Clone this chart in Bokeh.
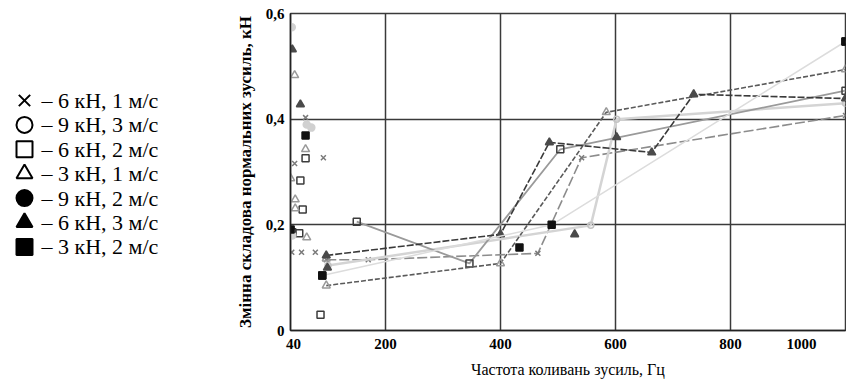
from bokeh.plotting import figure
from bokeh.layouts import row
from bokeh.models import Range1d, FixedTicker, CustomJSTickFormatter, ColumnDataSource
from bokeh.embed import file_html
from bokeh.resources import INLINE
from bokeh.core.properties import value

# ---------------- data ----------------
x_ticks = [40, 200, 400, 600, 800, 1000]
y_ticks = [0, 0.2, 0.4, 0.6]
grid_x = [200, 400, 600, 800]
grid_y = [0.2, 0.4]

legend_labels = ["– 6 кН, 1 м/с", "– 9 кН, 3 м/с", "– 6 кН, 2 м/с", "– 3 кН, 1 м/с",
                 "– 9 кН, 2 м/с", "– 6 кН, 3 м/с", "– 3 кН, 2 м/с"]
legend_markers = ["x", "circle", "square", "triangle", "circle", "triangle", "square"]
legend_filled = [0, 0, 0, 0, 1, 1, 1]

# 6 kN, 1 m/s  (x)
s1_line_f = [97, 170, 465, 541, 1000]
s1_line_v = [0.134, 0.134, 0.146, 0.327, 0.407]
s1_pts_f = [61, 92, 42, 37, 54, 78]
s1_pts_v = [0.403, 0.327, 0.316, 0.148, 0.148, 0.148]

# 9 kN, 3 m/s  (open circle)
s2_line_f = [100, 557, 602, 1000]
s2_line_v = [0.123, 0.199, 0.400, 0.430]
s2_pts_f = []
s2_pts_v = []

# 6 kN, 2 m/s  (open square)
s3_line_f = [150, 346, 504, 1000]
s3_line_v = [0.206, 0.127, 0.343, 0.454]
s3_pts_f = [61, 52, 56, 38, 50, 87]
s3_pts_v = [0.326, 0.284, 0.229, 0.186, 0.184, 0.030]

# 3 kN, 1 m/s  (open triangle)
s4_line_f = [97, 400, 584, 1000]
s4_line_v = [0.085, 0.127, 0.413, 0.494]
s4_pts_f = [42, 61, 35, 43, 43, 63, 97]
s4_pts_v = [0.483, 0.343, 0.288, 0.248, 0.231, 0.176, 0.136]

# 9 kN, 2 m/s  (filled circle)
s5_line_f = []
s5_line_v = []
s5_pts_f = [37, 63, 71, 38]
s5_pts_v = [0.574, 0.390, 0.384, 0.180]

# 6 kN, 3 m/s  (filled triangle)
s6_line_f = [97, 400, 485, 663, 736, 1000]
s6_line_v = [0.142, 0.182, 0.356, 0.337, 0.447, 0.439]
s6_pts_f = [38, 52, 99, 529, 602]
s6_pts_v = [0.532, 0.428, 0.119, 0.182, 0.366]

# 3 kN, 2 m/s  (filled square)
s7_line_f = [90, 489, 1000]
s7_line_v = [0.104, 0.200, 0.547]
s7_pts_f = [61, 35, 90, 433, 1000]
s7_pts_v = [0.369, 0.191, 0.104, 0.157, 0.547]

series = [
    (s1_line_f, s1_line_v, s1_pts_f, s1_pts_v),
    (s2_line_f, s2_line_v, s2_pts_f, s2_pts_v),
    (s3_line_f, s3_line_v, s3_pts_f, s3_pts_v),
    (s4_line_f, s4_line_v, s4_pts_f, s4_pts_v),
    (s5_line_f, s5_line_v, s5_pts_f, s5_pts_v),
    (s6_line_f, s6_line_v, s6_pts_f, s6_pts_v),
    (s7_line_f, s7_line_v, s7_pts_f, s7_pts_v),
]

# ---------------- styles ----------------
styles = [
    dict(mc="#7a7a7a", lc="#8c8c8c", dash="10 3", lw=1.6, fill=False, ms=7),
    dict(mc="#c4c4c4", lc="#d4d4d4", dash="solid", lw=2.5, fill=False, ms=6),
    dict(mc="#3c3c3c", lc="#9a9a9a", dash="solid", lw=1.8, fill=False, ms=7),
    dict(mc="#9a9a9a", lc="#5a5a5a", dash="5 2", lw=1.6, fill=False, ms=8),
    dict(mc="#d0d0d0", lc="#d0d0d0", dash="solid", lw=1.5, fill=True, ms=7),
    dict(mc="#4a4a4a", lc="#3a3a3a", dash="7 2", lw=1.6, fill=True, ms=8),
    dict(mc="#111111", lc="#dcdcdc", dash="solid", lw=1.5, fill=True, ms=7),
]

SERIF = "Liberation Serif"
H = 380
TOP = 13
BOTTOM = 50
LW = 230
MW = 616

# ---------------- legend figure ----------------
lg = figure(width=LW, height=H, x_range=Range1d(0, LW), y_range=Range1d(H - BOTTOM, TOP),
            output_backend="svg", toolbar_location=None,
            x_axis_location=None, y_axis_location=None,
            min_border_left=0, min_border_right=0, min_border_top=TOP, min_border_bottom=BOTTOM)
lg.grid.visible = False
lg.outline_line_color = None

row_y = [100 + i * 24.4 for i in range(len(legend_labels))]
lsrc = ColumnDataSource(dict(
    x=[24] * len(legend_labels), y=row_y, marker=legend_markers,
    fa=legend_filled, tx=[41] * len(legend_labels), label=legend_labels))
lg.scatter(x="x", y="y", marker="marker", source=lsrc, size=16, line_color="black",
           line_width=2, fill_color="black", fill_alpha="fa")
lg.text(x="tx", y="y", text="label", source=lsrc, text_font=value(SERIF),
        text_font_size="22px", text_baseline="middle", text_color="black")

# ---------------- main figure ----------------
p = figure(width=MW, height=H, x_range=Range1d(34.8, 1000), y_range=Range1d(0, 0.6),
           output_backend="svg", toolbar_location=None,
           min_border_left=60, min_border_right=1, min_border_top=TOP, min_border_bottom=BOTTOM)

for i, ((lf, lv, pf, pv), st) in enumerate(zip(series, styles)):
    if lf:
        p.line(lf, lv, line_color=st["lc"], line_width=st["lw"], line_dash=st["dash"])
    fc = st["mc"] if st["fill"] else "white"
    fa = 1.0 if st["fill"] else 0.0
    allf = list(pf) + list(lf)
    allv = list(pv) + list(lv)
    if allf:
        p.scatter(allf, allv, marker=legend_markers[i], size=st["ms"], line_color=st["mc"],
                  line_width=1.5, fill_color=fc, fill_alpha=fa)

p.xaxis.ticker = FixedTicker(ticks=x_ticks)
p.yaxis.ticker = FixedTicker(ticks=y_ticks)
p.xgrid.ticker = FixedTicker(ticks=grid_x)
p.ygrid.ticker = FixedTicker(ticks=grid_y)
p.grid.grid_line_color = "#3a3a3a"
p.grid.grid_line_width = 1.5
p.grid.grid_line_alpha = 1.0
p.outline_line_color = "#3a3a3a"
p.outline_line_width = 1.5
p.outline_line_alpha = 1.0

p.yaxis.formatter = CustomJSTickFormatter(
    code="return tick == 0 ? '0' : tick.toFixed(1).replace('.', ',');")
p.xaxis.formatter = CustomJSTickFormatter(
    code="return tick == 1000 ? '1000' + '\\u00a0'.repeat(8) : tick.toFixed(0);")

for ax in (p.xaxis[0], p.yaxis[0]):
    ax.major_tick_out = 0
    ax.major_tick_in = 0
    ax.minor_tick_out = 0
    ax.minor_tick_in = 0
    ax.axis_line_color = "#222222"
    ax.axis_line_width = 1.5
    ax.major_label_text_font = SERIF
    ax.major_label_text_font_size = "15px"
    ax.major_label_text_font_style = "bold"
    ax.major_label_text_color = "black"
    ax.axis_label_text_font = SERIF
    ax.axis_label_text_color = "black"

p.xaxis.axis_label = "Частота коливань зусиль, Гц"
p.xaxis.axis_label_text_font_size = "16px"
p.xaxis.axis_label_text_font_style = "normal"
p.xaxis.major_label_standoff = 5
p.xaxis.axis_label_standoff = 6

p.yaxis.axis_label = "Змінна складова нормальних зусиль, кН"
p.yaxis.axis_label_text_font_size = "17px"
p.yaxis.axis_label_text_font_style = "bold"
p.yaxis.major_label_standoff = 6
p.yaxis.axis_label_standoff = 8

layout = row(lg, p)
open("out.html", "w").write(file_html(layout, INLINE))
